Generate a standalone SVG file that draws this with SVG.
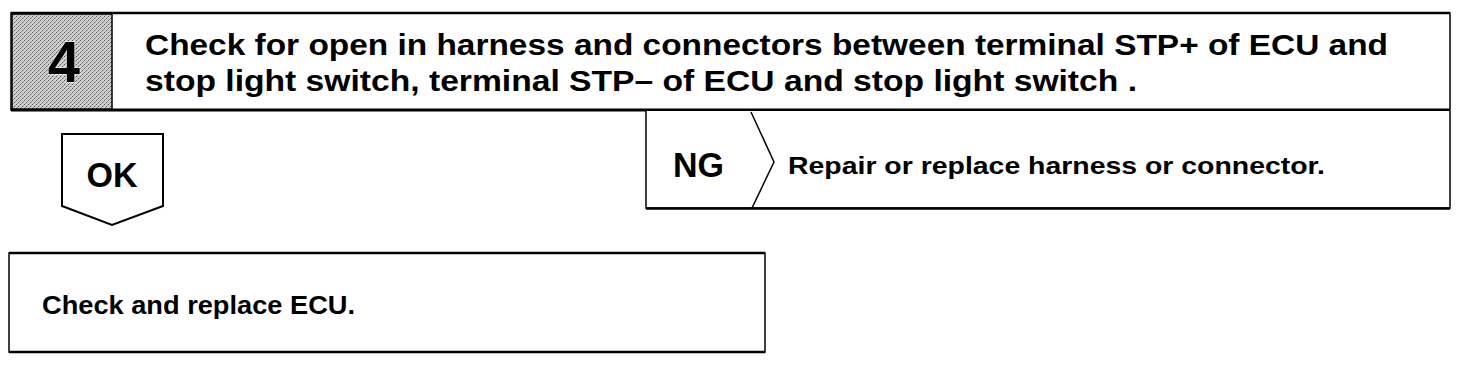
<svg xmlns="http://www.w3.org/2000/svg" width="1472" height="372" viewBox="0 0 1472 372">
<style>
.t{font-family:"Liberation Sans",Arial,sans-serif;font-weight:bold;fill:#000}
.b{fill:#fff;stroke:#000;stroke-width:2}
</style>
<defs>
<pattern id="dith" width="4" height="4" patternUnits="userSpaceOnUse">
<rect width="4" height="4" fill="#cfcfcf"/>
<rect x="0" y="0" width="1" height="1" fill="#555"/>
<rect x="2" y="2" width="1" height="1" fill="#555"/>
<rect x="1" y="3" width="1" height="1" fill="#999"/>
<rect x="3" y="1" width="1" height="1" fill="#999"/>
</pattern>
</defs>
<rect width="1472" height="372" fill="#fff"/>
<g id="header">
<rect x="11" y="13" width="1439" height="97" fill="#fff" stroke="#000" stroke-width="1.5"/>
<line x1="11" y1="13" x2="1450" y2="13" stroke="#000" stroke-width="2.5"/>
<line x1="11" y1="110" x2="1450" y2="110" stroke="#000" stroke-width="3"/>
<rect x="12" y="14" width="100" height="95" fill="url(#dith)" stroke="#000" stroke-width="1.5"/>
<text class="t" x="64" y="82" font-size="58" text-anchor="middle" stroke="#fff" stroke-width="1" paint-order="stroke">4</text>
<text class="t" x="145" y="55" font-size="30" textLength="1243" lengthAdjust="spacingAndGlyphs">Check for open in harness and connectors between terminal STP+ of ECU and</text>
<text class="t" x="145" y="91" font-size="30" textLength="992" lengthAdjust="spacingAndGlyphs">stop light switch, terminal STP– of ECU and stop light switch .</text>
</g>
<g id="ok">
<path class="b" d="M62 134 H163 V206 L112 225 L62 206 Z"/>
<text class="t" x="112" y="187" font-size="35" text-anchor="middle" textLength="51" lengthAdjust="spacingAndGlyphs">OK</text>
</g>
<g id="ng">
<path d="M646 111 V208 H1450 V111" fill="#fff" stroke="#000" stroke-width="1.5"/>
<line x1="646" y1="208.5" x2="1450" y2="208.5" stroke="#000" stroke-width="2.5"/>
<path d="M751 112 L774 162 L752 208" fill="none" stroke="#000" stroke-width="1.5"/>
<text class="t" x="673" y="177" font-size="35" textLength="51" lengthAdjust="spacingAndGlyphs">NG</text>
<text class="t" x="788" y="174" font-size="24" textLength="537" lengthAdjust="spacingAndGlyphs">Repair or replace harness or connector.</text>
</g>
<g id="ecu">
<rect x="9" y="253" width="756" height="99" fill="#fff" stroke="#000" stroke-width="1.5"/>
<line x1="9" y1="253" x2="765" y2="253" stroke="#000" stroke-width="2.5"/>
<line x1="9" y1="352" x2="765" y2="352" stroke="#000" stroke-width="2.5"/>
<text class="t" x="42" y="314" font-size="25" textLength="313" lengthAdjust="spacingAndGlyphs">Check and replace ECU.</text>
</g>
<g id="connectors"></g>
</svg>
